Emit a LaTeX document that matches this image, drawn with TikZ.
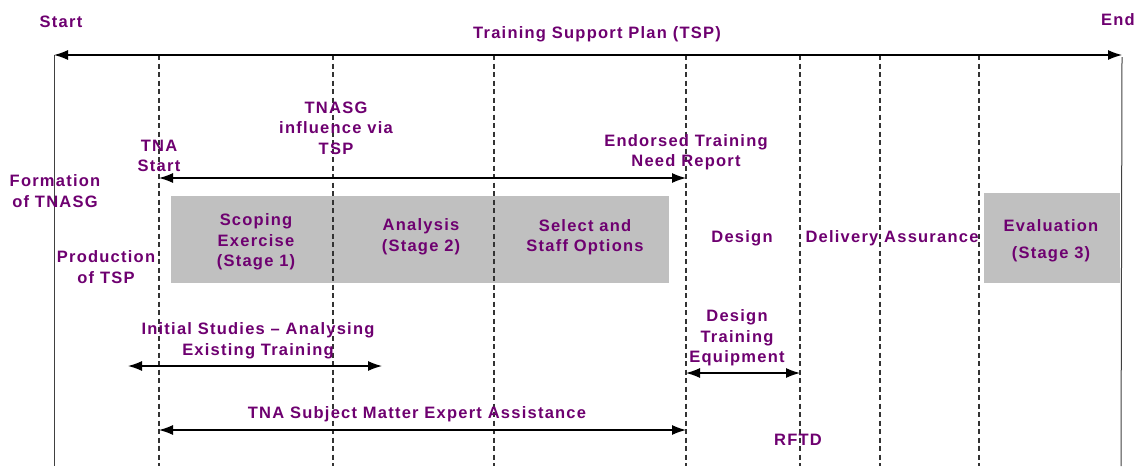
\documentclass[tikz,border=0pt]{standalone}
\usepackage{fontspec}
\setmainfont{Liberation Sans}
\usetikzlibrary{arrows.meta}

\definecolor{tnapurple}{RGB}{110,0,112}
\definecolor{stagegray}{RGB}{192,192,192}

\tikzset{
  lbl/.style={text=tnapurple,inner sep=0pt,align=center,
    font=\bfseries\fontsize{16.5}{20.5}\selectfont\addfontfeature{LetterSpace=7.5}},
  span/.style={{Latex[length=14pt,width=10pt]}-{Latex[length=14pt,width=10pt]},line width=1.2pt},
  phase/.style={line width=1.2pt,black!80,dash pattern=on 5pt off 3.5pt},
  edge/.style={line width=1pt,black!75},
  stagebox/.style={fill=stagegray,draw=none}
}

\begin{document}
\begin{tikzpicture}[x=1pt,y=1pt,yscale=-1]
    \useasboundingbox (0,0) rectangle (1140,466);

    % Stage boxes
    \path[stagebox] (171,196) rectangle (669,283);
    \path[stagebox] (984,193) rectangle (1120,283);

    % Start / end edges
    \coordinate (start) at (54,55);
    \coordinate (startbot) at (54,466);
    \coordinate (end) at (1122,55);
    \coordinate (endbot) at (1121,466);
    \draw[edge] (start) -- (startbot);
    \draw[edge] (end |- 0,57) -- (endbot);

    % Phase boundaries
    \foreach \n/\x in {tna/159, ana/333, sel/494, etnr/686, dte/800, dlv/880, eva/979}{
      \coordinate (\n top) at (\x,55);
      \coordinate (\n bot) at (\x,466);
      \draw[phase] (\n top) -- (\n bot);
    }

    % Spans
    \draw[span] (start) -- (end);
    \coordinate (tnaL) at (159,178);
    \coordinate (tnaR) at (686,178);
    \draw[span] (tnaL) -- (tnaR);
    \coordinate (isL) at (128,366);
    \coordinate (isR) at (382,366);
    \draw[span] (isL) -- (isR);
    \coordinate (smeL) at (159,430);
    \coordinate (smeR) at (686,430);
    \draw[span] (smeL) -- (smeR);
    \coordinate (dteL) at (686,373);
    \coordinate (dteR) at (800,373);
    \draw[span] (dteL) -- (dteR);

    % Text Nodes
    \node[lbl] (startlbl) at (61,22) {Start};
    \node[lbl] (endlbl) at (1118,20) {End};
    \node[lbl] (tsp) at (597,34) {Training Support Plan (TSP)};
    \node[lbl] (tnasg) at (336,128) {TNASG\\influence via\\TSP};
    \node[lbl] (tnastart) at (159,156) {TNA\\Start};
    \node[lbl] (etnrlbl) at (686,152) {Endorsed Training\\Need Report};
    \node[lbl] (formation) at (55,191) {Formation\\of TNASG};
    \node[lbl] (production) at (106,267) {Production\\of TSP};
    \node[lbl] (scoping) at (256,242) {Scoping\\Exercise\\(Stage 1)};
    \node[lbl] (analysis) at (421,237) {Analysis\\(Stage 2)};
    \node[lbl] (select) at (585,237) {Select and\\Staff Options};
    \node[lbl] (design) at (742,238) {Design};
    \node[lbl] (delivery) at (892,238) {Delivery Assurance};
    \node[lbl] (evaluation) at (1051,241) {Evaluation\\[7pt](Stage 3)};
    \node[lbl] (initial) at (258,341) {Initial Studies -- Analysing\\Existing Training};
    \node[lbl] (sme) at (417,414) {TNA Subject Matter Expert Assistance};
    \node[lbl] (dtelbl) at (737,338) {Design\\Training\\Equipment};
    \node[lbl] (rftd) at (798,440) {RFTD};

\end{tikzpicture}
\end{document}
